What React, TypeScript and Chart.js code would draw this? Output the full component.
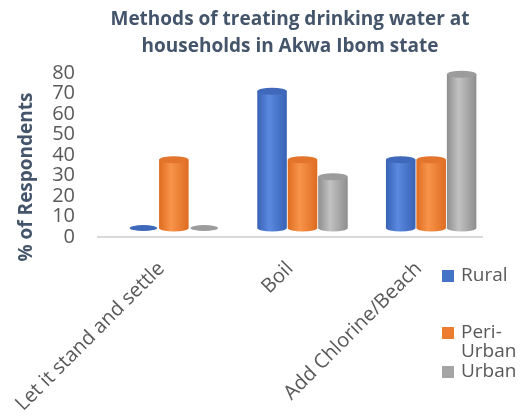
import { useEffect, useRef } from "react";
import { Chart, registerables } from "chart.js";

Chart.register(...registerables);

const titleLines = ["Methods of treating drinking water at", "households in Akwa Ibom state"];
const yTitle = "% of Respondents";
const categories = ["Let it stand and settle", "Boil", "Add Chlorine/Beach"];
const seriesNames = ["Rural", "Peri-Urban", "Urban"];
const legendLines = [["Rural"], ["Peri-", "Urban"], ["Urban"]];
const rural = [0, 66.7, 33.3];
const periUrban = [33.3, 33.3, 33.3];
const urban = [0, 25, 75];
const yMin = 0;
const yMax = 80;
const yStep = 10;

const baseColors = ["#4472C4", "#ED7D31", "#A5A5A5"];
const shades = [
  { dark: "#3862B4", light: "#5A89E0", top: "#4068BA" },
  { dark: "#DE6C20", light: "#F8944A", top: "#E2742C" },
  { dark: "#8E8E8E", light: "#C2C2C2", top: "#9C9C9C" },
];

const FONT = "'Open Sans', sans-serif";
const DEPTH_X = 12.5;
const DEPTH_Y = -9;

function drawCylinder(ctx: CanvasRenderingContext2D, cx: number, top: number, base: number, w: number, s: { dark: string; light: string; top: string }) {
  const rx = w / 2;
  const ry = 3.5;
  const left = cx - rx;
  const right = cx + rx;
  const grad = ctx.createLinearGradient(left, 0, right, 0);
  grad.addColorStop(0, s.dark);
  grad.addColorStop(0.4, s.light);
  grad.addColorStop(1, s.dark);
  if (base - top < 0.5) {
    ctx.beginPath();
    ctx.ellipse(cx, base, rx - 1, 3, 0, 0, Math.PI * 2);
    ctx.fillStyle = s.top;
    ctx.fill();
    return;
  }
  ctx.beginPath();
  ctx.moveTo(left, top);
  ctx.lineTo(left, base);
  ctx.ellipse(cx, base, rx, ry, 0, Math.PI, 0, true);
  ctx.lineTo(right, top);
  ctx.closePath();
  ctx.fillStyle = grad;
  ctx.fill();
  ctx.beginPath();
  ctx.ellipse(cx, top, rx, ry, 0, 0, Math.PI * 2);
  ctx.fillStyle = s.top;
  ctx.fill();
}

const cylinderPlugin = {
  id: "cylinders",
  beforeDatasetsDraw(chart: any) {
    const ctx = chart.ctx as CanvasRenderingContext2D;
    const area = chart.chartArea;
    ctx.save();
    ctx.strokeStyle = "#D9D9D9";
    ctx.lineWidth = 2;
    ctx.beginPath();
    ctx.moveTo(area.left, area.bottom);
    ctx.lineTo(area.right, area.bottom);
    ctx.stroke();
    ctx.restore();
  },
  afterDatasetsDraw(chart: any) {
    const ctx = chart.ctx as CanvasRenderingContext2D;
    ctx.save();
    ctx.translate(DEPTH_X, DEPTH_Y);
    chart.data.datasets.forEach((_ds: any, di: number) => {
      const meta = chart.getDatasetMeta(di);
      meta.data.forEach((el: any) => {
        const p = el.getProps(["x", "y", "base", "width"], true);
        drawCylinder(ctx, p.x, p.y, p.base, p.width, shades[di]);
      });
    });
    ctx.restore();
  },
  afterDraw(chart: any) {
    const ctx = chart.ctx as CanvasRenderingContext2D;
    ctx.save();
    ctx.translate(27, 177);
    ctx.rotate(-Math.PI / 2);
    ctx.font = `bold 19px ${FONT}`;
    ctx.fillStyle = "#44546A";
    ctx.textAlign = "center";
    ctx.textBaseline = "middle";
    ctx.fillText(yTitle, 0, 0);
    ctx.restore();
    ctx.save();
    ctx.font = `19px ${FONT}`;
    ctx.textBaseline = "middle";
    ctx.textAlign = "left";
    const rows = [[276], [333, 352], [372]];
    legendLines.forEach((lines, i) => {
      ctx.fillStyle = baseColors[i];
      ctx.fillRect(442, rows[i][0] - 6, 12, 12);
      ctx.fillStyle = "#595959";
      lines.forEach((t, j) => ctx.fillText(t, 461, rows[i][j]));
    });
    ctx.restore();
  },
};

export default function App() {
  const ref = useRef<HTMLCanvasElement | null>(null);
  useEffect(() => {
    if (!ref.current) return;
    const chart = new Chart(ref.current, {
      type: "bar",
      data: {
        labels: categories,
        datasets: [rural, periUrban, urban].map((d, i) => ({
          label: seriesNames[i],
          data: d,
          backgroundColor: "rgba(0,0,0,0)",
          borderWidth: 0,
          barPercentage: 0.97,
          categoryPercentage: 0.71,
        })),
      },
      options: {
        responsive: false,
        animation: false,
        layout: { padding: { left: 0, right: 38, top: 0, bottom: 0 } },
        plugins: {
          legend: { display: false },
          tooltip: { enabled: false },
          title: {
            display: true,
            text: titleLines,
            fullSize: false,
            color: "#44546A",
            font: { family: FONT, size: 19, weight: "bold", lineHeight: 1.42 },
            padding: { top: 6, bottom: 13 },
          },
        },
        scales: {
          x: {
            grid: { display: false, drawTicks: false },
            border: { display: false },
            ticks: {
              color: "#595959",
              font: { family: FONT, size: 20 },
              minRotation: 45,
              maxRotation: 45,
              autoSkip: false,
              padding: 20,
            },
            afterFit(scale: any) {
              scale.height = 416 - 237;
              scale.paddingLeft = 0;
              scale.paddingRight = 0;
            },
          },
          y: {
            min: yMin,
            max: yMax,
            grid: { display: false, drawTicks: false },
            border: { display: false },
            ticks: {
              stepSize: yStep,
              autoSkip: false,
              color: "#595959",
              font: { family: FONT, size: 20, lineHeight: 1 },
              padding: 22,
            },
            afterFit(scale: any) {
              scale.width = 97;
            },
          },
        },
      },
      plugins: [cylinderPlugin],
    });
    return () => chart.destroy();
  }, []);
  return (
    <div style={{ position: "fixed", left: 0, top: 0, width: 521, height: 416, background: "#fff" }}>
      <canvas ref={ref} width={521} height={416} style={{ display: "block" }} />
    </div>
  );
}
